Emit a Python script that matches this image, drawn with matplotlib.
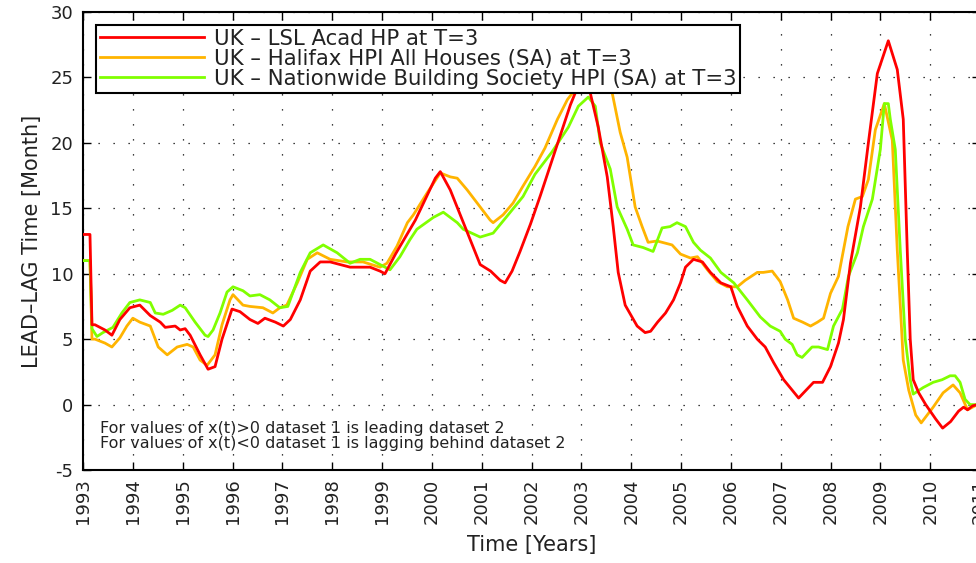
import numpy as np
import matplotlib
matplotlib.use("Agg")
import matplotlib.pyplot as plt

plt.rcParams['font.family'] = ['DejaVu Sans']

# values (decimal year, months)
lsl_t = [1993.00, 1993.14, 1993.18, 1993.24, 1993.44, 1993.58, 1993.74, 1993.94, 1994.14, 1994.35,
         1994.55, 1994.65, 1994.85, 1994.95, 1995.05, 1995.15, 1995.35, 1995.51, 1995.65, 1995.79,
         1995.99, 1996.15, 1996.35, 1996.51, 1996.65, 1996.86, 1997.02, 1997.16, 1997.36, 1997.56,
         1997.76, 1997.96, 1998.16, 1998.36, 1998.56, 1998.76, 1998.96, 1999.06, 1999.27, 1999.47,
         1999.67, 1999.87, 2000.07, 2000.17, 2000.37, 2000.57, 2000.77, 2000.97, 2001.18, 2001.37,
         2001.47, 2001.61, 2001.77, 2001.98, 2002.18, 2002.38, 2002.58, 2002.78, 2002.94, 2003.08,
         2003.18, 2003.34, 2003.52, 2003.64, 2003.74, 2003.88, 2004.12, 2004.28, 2004.39, 2004.53,
         2004.69, 2004.85, 2004.99, 2005.09, 2005.25, 2005.43, 2005.59, 2005.80, 2006.00, 2006.13,
         2006.33, 2006.53, 2006.69, 2006.86, 2007.06, 2007.36, 2007.66, 2007.84, 2008.00, 2008.16,
         2008.26, 2008.40, 2008.60, 2008.76, 2008.94, 2009.16, 2009.34, 2009.46, 2009.54, 2009.60,
         2009.66, 2009.77, 2009.91, 2010.11, 2010.25, 2010.41, 2010.57, 2010.67, 2010.75, 2010.85,
         2010.95]
lsl_v = [13.0, 13.0, 6.1, 6.1, 5.7, 5.3, 6.5, 7.4, 7.6, 6.8,
         6.3, 5.9, 6.0, 5.7, 5.8, 5.3, 3.8, 2.7, 2.9, 5.0,
         7.3, 7.1, 6.5, 6.2, 6.6, 6.3, 6.0, 6.5, 8.0, 10.2,
         10.9, 10.9, 10.7, 10.5, 10.5, 10.5, 10.2, 10.0, 11.5, 12.8,
         14.1, 15.7, 17.3, 17.8, 16.4, 14.5, 12.6, 10.7, 10.2, 9.5,
         9.3, 10.2, 11.7, 13.8, 16.0, 18.3, 20.6, 22.9, 24.4, 26.0,
         23.8, 21.2, 17.4, 13.6, 10.1, 7.6, 6.0, 5.5, 5.6, 6.3,
         7.0, 8.0, 9.3, 10.5, 11.1, 10.9, 10.1, 9.3, 9.0, 7.5,
         6.0, 5.0, 4.4, 3.2, 1.9, 0.5, 1.7, 1.7, 2.9, 4.7,
         6.5, 10.8, 15.1, 20.0, 25.3, 27.8, 25.6, 21.8, 11.8, 5.0,
         1.9, 0.9, 0.0, -1.1, -1.8, -1.3, -0.5, -0.2, -0.4, -0.1,
         0.0]

hal_t = [1993.00, 1993.14, 1993.18, 1993.24, 1993.44, 1993.58, 1993.74, 1993.88, 1994.00, 1994.14,
         1994.35, 1994.51, 1994.69, 1994.89, 1995.09, 1995.21, 1995.35, 1995.49, 1995.65, 1995.79,
         1995.95, 1996.01, 1996.21, 1996.35, 1996.61, 1996.81, 1996.95, 1997.09, 1997.30, 1997.50,
         1997.70, 1997.96, 1998.30, 1998.62, 1998.96, 1999.10, 1999.30, 1999.51, 1999.63, 1999.91,
         2000.17, 2000.37, 2000.51, 2000.71, 2000.91, 2001.17, 2001.23, 2001.43, 2001.63, 2001.83,
         2002.07, 2002.27, 2002.52, 2002.72, 2002.88, 2003.10, 2003.22, 2003.62, 2003.78, 2003.92,
         2004.08, 2004.22, 2004.34, 2004.52, 2004.82, 2004.99, 2005.19, 2005.33, 2005.53, 2005.73,
         2005.93, 2006.13, 2006.29, 2006.53, 2006.65, 2006.83, 2006.99, 2007.14, 2007.26, 2007.44,
         2007.60, 2007.74, 2007.86, 2008.00, 2008.16, 2008.35, 2008.50, 2008.64, 2008.76, 2008.90,
         2009.08, 2009.24, 2009.34, 2009.46, 2009.57, 2009.71, 2009.82, 2010.06, 2010.26, 2010.46,
         2010.60, 2010.75, 2010.95]
hal_v = [11.0, 11.0, 5.0, 5.0, 4.7, 4.4, 5.1, 6.0, 6.6, 6.3,
         6.0, 4.4, 3.8, 4.4, 4.6, 4.4, 3.4, 3.0, 3.8, 6.1,
         8.0, 8.4, 7.6, 7.5, 7.4, 7.0, 7.4, 7.6, 9.3, 11.1,
         11.6, 11.1, 10.9, 10.9, 10.5, 10.8, 12.1, 13.9, 14.5, 16.2,
         17.7, 17.4, 17.3, 16.4, 15.4, 14.1, 13.9, 14.5, 15.4, 16.7,
         18.2, 19.6, 21.8, 23.3, 24.1, 26.5, 27.0, 23.8, 20.8, 18.9,
         15.1, 13.6, 12.4, 12.5, 12.2, 11.5, 11.2, 11.3, 10.3, 9.4,
         9.0, 9.0, 9.5, 10.1, 10.1, 10.2, 9.4, 8.0, 6.6, 6.3,
         6.0, 6.3, 6.6, 8.5, 9.8, 13.6, 15.7, 15.9, 17.2, 21.0,
         23.0, 20.2, 11.8, 3.4, 1.1, -0.8, -1.4, -0.2, 0.9, 1.5,
         0.9, -0.4, 0.0]

nat_t = [1993.00, 1993.14, 1993.18, 1993.28, 1993.40, 1993.60, 1993.78, 1993.94, 1994.14, 1994.35,
         1994.45, 1994.61, 1994.79, 1994.95, 1995.05, 1995.25, 1995.45, 1995.51, 1995.61, 1995.75,
         1995.89, 1996.01, 1996.21, 1996.35, 1996.55, 1996.75, 1996.95, 1997.11, 1997.36, 1997.56,
         1997.82, 1998.10, 1998.36, 1998.56, 1998.76, 1998.96, 1999.16, 1999.36, 1999.56, 1999.70,
         2000.03, 2000.23, 2000.51, 2000.63, 2000.97, 2001.23, 2001.51, 2001.83, 2002.07, 2002.41,
         2002.74, 2002.94, 2003.14, 2003.28, 2003.38, 2003.58, 2003.72, 2003.92, 2004.04, 2004.24,
         2004.44, 2004.62, 2004.78, 2004.92, 2005.09, 2005.25, 2005.39, 2005.59, 2005.80, 2006.06,
         2006.33, 2006.59, 2006.79, 2006.99, 2007.09, 2007.23, 2007.33, 2007.43, 2007.63, 2007.76,
         2007.94, 2008.06, 2008.24, 2008.36, 2008.54, 2008.66, 2008.84, 2009.00, 2009.08, 2009.16,
         2009.20, 2009.30, 2009.40, 2009.50, 2009.60, 2009.66, 2009.86, 2010.06, 2010.24, 2010.40,
         2010.50, 2010.60, 2010.70, 2010.80, 2010.95]
nat_v = [11.0, 11.0, 5.8, 5.2, 5.5, 5.9, 7.0, 7.8, 8.0, 7.8,
         7.0, 6.9, 7.2, 7.6, 7.4, 6.3, 5.3, 5.2, 5.7, 7.0,
         8.6, 9.0, 8.7, 8.3, 8.4, 8.0, 7.4, 7.5, 10.1, 11.6,
         12.2, 11.6, 10.8, 11.1, 11.1, 10.7, 10.3, 11.3, 12.6, 13.4,
         14.3, 14.7, 13.9, 13.4, 12.8, 13.1, 14.4, 15.9, 17.6, 19.3,
         21.2, 22.8, 23.5, 22.8, 20.0, 18.0, 15.1, 13.4, 12.2, 12.0,
         11.7, 13.5, 13.6, 13.9, 13.6, 12.4, 11.8, 11.2, 10.1, 9.3,
         8.0, 6.7, 6.0, 5.6, 5.0, 4.6, 3.8, 3.6, 4.4, 4.4,
         4.2, 6.0, 7.3, 9.8, 11.6, 13.6, 15.7, 19.5, 23.0, 23.0,
         21.8, 19.5, 11.8, 5.0, 1.9, 0.8, 1.3, 1.7, 1.9, 2.2,
         2.2, 1.7, 0.4, 0.0, 0.0]

labels = ["UK \u2013 LSL Acad HP at T=3",
          "UK \u2013 Halifax HPI All Houses (SA) at T=3",
          "UK \u2013 Nationwide Building Society HPI (SA) at T=3"]
colors = ["#ff0000", "#ffb400", "#80ff00"]

years = list(range(1993, 2012))
yticks = [-5, 0, 5, 10, 15, 20, 25, 30]

fig = plt.figure(figsize=(9.76, 5.63), dpi=100)
ax = fig.add_axes([83 / 976, 93 / 563, 897 / 976, 458 / 563])

ax.plot(lsl_t, lsl_v, color=colors[0], lw=2, label=labels[0], zorder=4)
ax.plot(hal_t, hal_v, color=colors[1], lw=2, label=labels[1], zorder=3)
ax.plot(nat_t, nat_v, color=colors[2], lw=2, label=labels[2], zorder=3)

ax.set_xlim(1993, 2011)
ax.set_ylim(-5, 30)
ax.set_xticks(years)
ax.set_xticklabels([str(y) for y in years], rotation=90, fontsize=13, color='#222222')
ax.set_yticks(yticks)
ax.set_yticklabels([str(v) for v in yticks], fontsize=13, color='#222222')
ax.tick_params(direction='in', length=6, width=1, top=True, right=True)
ax.tick_params(axis='x', pad=6)
ax.tick_params(axis='y', pad=7)
ax.grid(True, color='black', linestyle=(0, (1, 11)), linewidth=0.9)
for s in ax.spines.values():
    s.set_linewidth(1.5)

ax.set_xlabel("Time [Years]", fontsize=15, color='#222222', labelpad=8)
ax.set_ylabel("LEAD\u2013LAG Time [Month]", fontsize=15, color='#222222', labelpad=6)

ax.text(0.019, 0.108, "For values of x(t)>0 dataset 1 is leading dataset 2\n"
        "For values of x(t)<0 dataset 1 is lagging behind dataset 2",
        transform=ax.transAxes, fontsize=11.5, va='top', linespacing=1.0, color='#222222')

leg = ax.legend(loc='upper left', bbox_to_anchor=(0.0145, 0.9716), borderaxespad=0,
                fontsize=15.3, handlelength=4.9, handletextpad=0.45, labelspacing=0.0,
                fancybox=False, framealpha=1, edgecolor='black', borderpad=0.18)
leg.get_frame().set_linewidth(1.5)
leg.set_zorder(10)
for t in leg.get_texts():
    t.set_color('#222222')

fig.savefig("out.png", dpi=100)
